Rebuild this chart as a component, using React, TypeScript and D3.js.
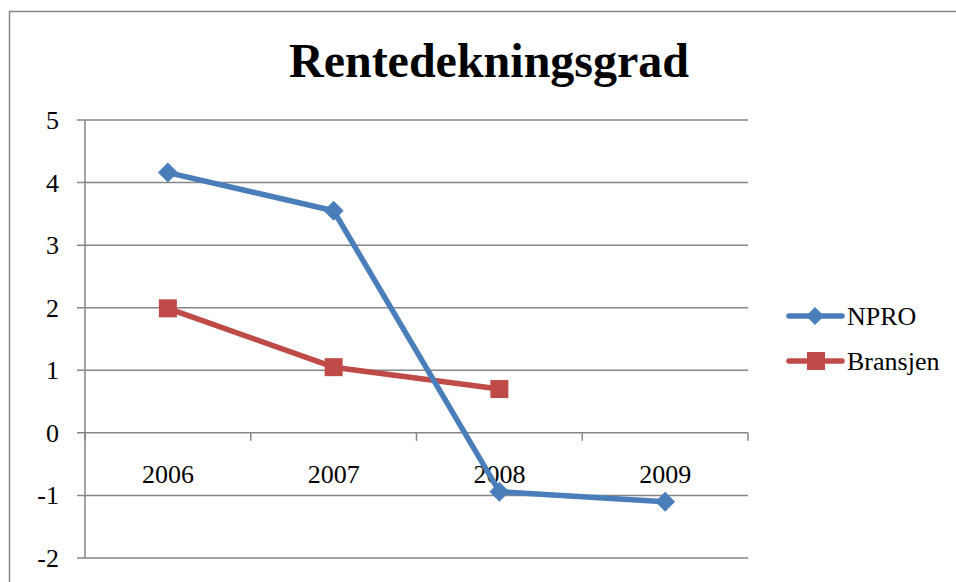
import * as React from 'react';
import * as d3 from 'd3';

const years = ['2006', '2007', '2008', '2009'];
const npro = [4.16, 3.55, -0.94, -1.1];
const bransjen = [1.99, 1.05, 0.7];
const yTicks = [5, 4, 3, 2, 1, 0, -1, -2];

const blue = '#4a7ebb';
const red = '#be4b48';
const grid = '#868686';
const font = '"Liberation Serif", "Times New Roman", serif';

export default function App() {
    const width = 956;
    const height = 582;
    const left = 85;
    const right = 748;
    const top = 120;
    const bottom = 558;

    const x = d3.scaleBand().domain(years).range([left, right]);
    const y = d3.scaleLinear().domain([-2, 5]).range([bottom, top]);
    const cx = (i: number) => (x(years[i]) as number) + x.bandwidth() / 2;

    const line = d3.line<number>().x((d, i) => cx(i)).y(d => y(d));
    const diamond = (px: number, py: number, r: number) =>
        `M${px},${py - r}L${px + r},${py}L${px},${py + r}L${px - r},${py}Z`;

    const bounds = [...years.map(yr => x(yr) as number), right];

    return <svg width={width} height={height}
                style={{ position: 'absolute', left: 0, top: 0, background: '#fff' }}>
        <rect x={9.5} y={11.5} width={980} height={620} fill="#fff" stroke={grid} strokeWidth={1.5} />
        <text x={489} y={77} textAnchor="middle" fontFamily={font} fontWeight="bold"
              fontSize={48}>Rentedekningsgrad</text>

        {yTicks.map(t => <g key={t}>
            <line x1={left - 8} x2={right} y1={y(t)} y2={y(t)} stroke={grid} strokeWidth={1.5} />
            <text x={59} y={y(t) + 9} textAnchor="end" fontFamily={font} fontSize={26}>{t}</text>
        </g>)}
        <line x1={left} x2={left} y1={top} y2={bottom} stroke={grid} strokeWidth={1.5} />
        {bounds.map((b, i) => <line key={i} x1={b} x2={b} y1={y(0)} y2={y(0) + 8}
                                    stroke={grid} strokeWidth={1.5} />)}
        {years.map((yr, i) => <text key={yr} x={cx(i)} y={y(0) + 50} textAnchor="middle"
                                    fontFamily={font} fontSize={26}>{yr}</text>)}

        <path d={line(bransjen) ?? ''} fill="none" stroke={red} strokeWidth={5.5} strokeLinejoin="round" />
        {bransjen.map((v, i) => <rect key={i} x={cx(i) - 9} y={y(v) - 9} width={18} height={18} fill={red} />)}

        <path d={line(npro) ?? ''} fill="none" stroke={blue} strokeWidth={5.5} strokeLinejoin="round" />
        {npro.map((v, i) => <path key={i} d={diamond(cx(i), y(v), 10)} fill={blue} />)}

        <line x1={789} x2={842} y1={316} y2={316} stroke={blue} strokeWidth={5.5} strokeLinecap="round" />
        <path d={diamond(815, 316, 9)} fill={blue} />
        <text x={847} y={325} fontFamily={font} fontSize={26}>NPRO</text>
        <line x1={789} x2={842} y1={361} y2={361} stroke={red} strokeWidth={5.5} strokeLinecap="round" />
        <rect x={807} y={352} width={18} height={18} fill={red} />
        <text x={847} y={370} fontFamily={font} fontSize={26}>Bransjen</text>
    </svg>;
}
